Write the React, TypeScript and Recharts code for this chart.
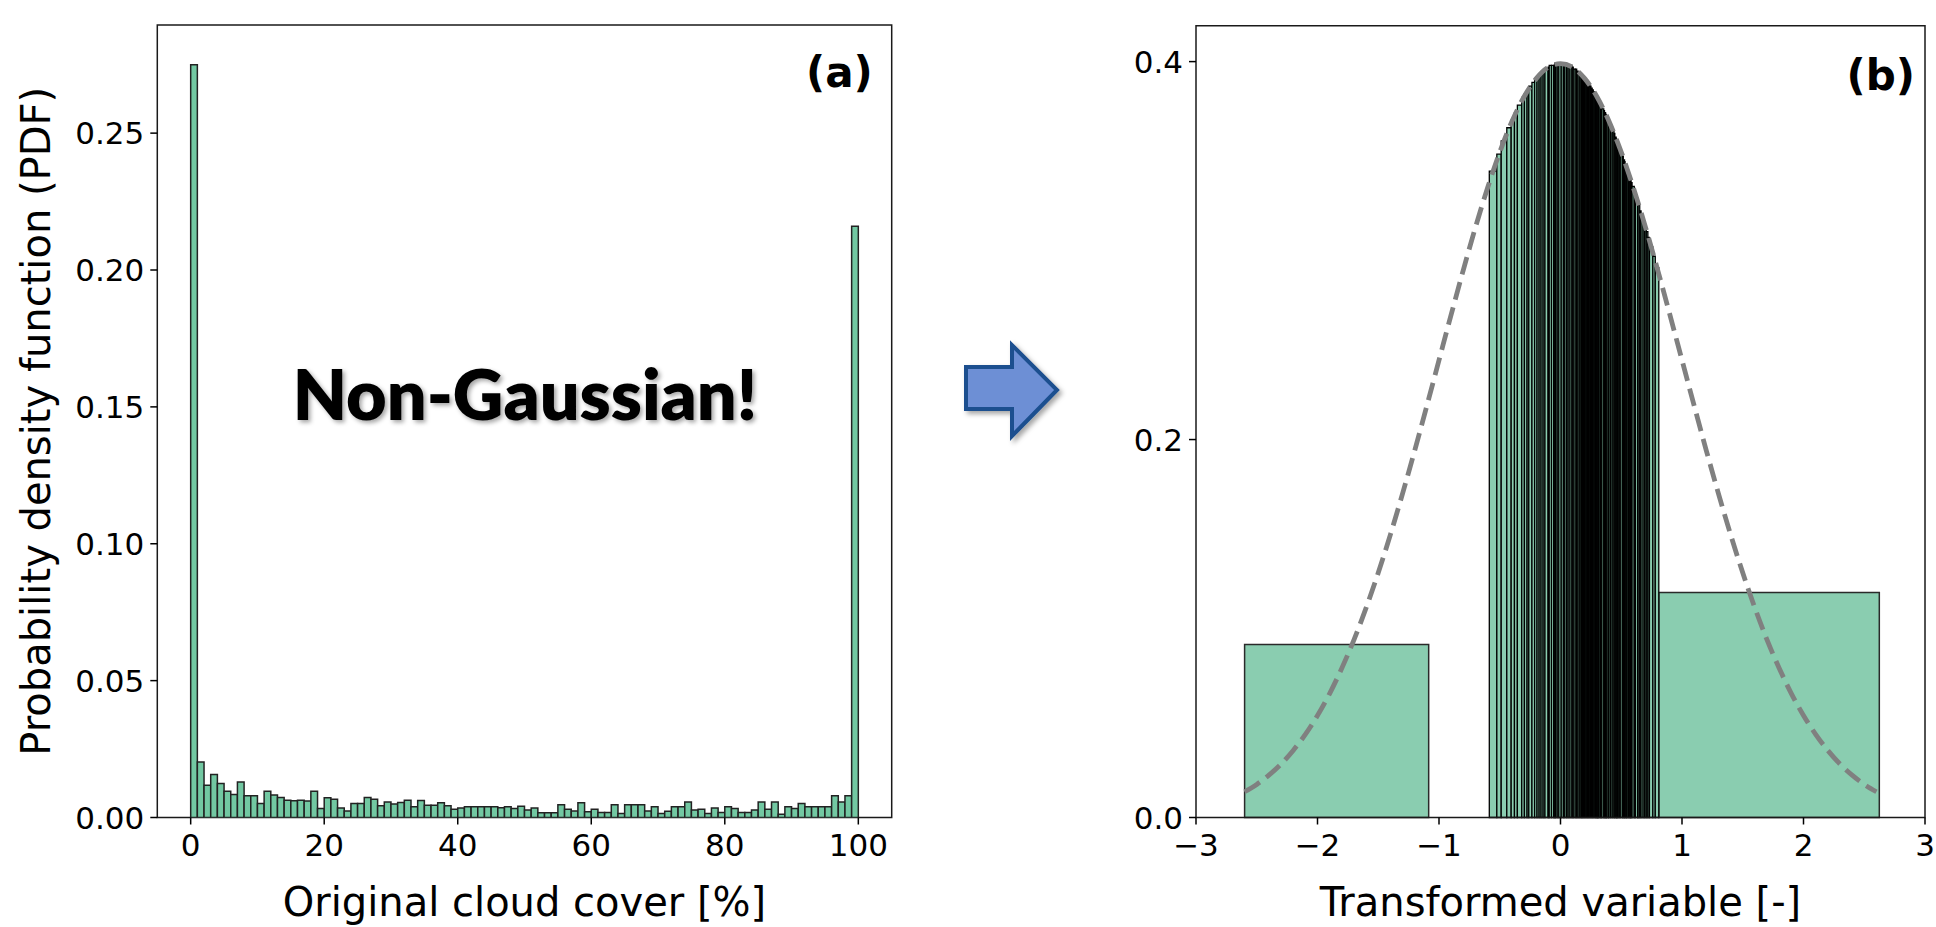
import React from "react";
import { ComposedChart, Bar, Line, XAxis, YAxis, ReferenceArea } from "recharts";

// ---------- Panel (a): original cloud cover histogram ----------
const cloudBinCenters = [
  0.5, 1.5, 2.5, 3.5, 4.5, 5.5, 6.5, 7.5, 8.5, 9.5,
  10.5, 11.5, 12.5, 13.5, 14.5, 15.5, 16.5, 17.5, 18.5, 19.5,
  20.5, 21.5, 22.5, 23.5, 24.5, 25.5, 26.5, 27.5, 28.5, 29.5,
  30.5, 31.5, 32.5, 33.5, 34.5, 35.5, 36.5, 37.5, 38.5, 39.5,
  40.5, 41.5, 42.5, 43.5, 44.5, 45.5, 46.5, 47.5, 48.5, 49.5,
  50.5, 51.5, 52.5, 53.5, 54.5, 55.5, 56.5, 57.5, 58.5, 59.5,
  60.5, 61.5, 62.5, 63.5, 64.5, 65.5, 66.5, 67.5, 68.5, 69.5,
  70.5, 71.5, 72.5, 73.5, 74.5, 75.5, 76.5, 77.5, 78.5, 79.5,
  80.5, 81.5, 82.5, 83.5, 84.5, 85.5, 86.5, 87.5, 88.5, 89.5,
  90.5, 91.5, 92.5, 93.5, 94.5, 95.5, 96.5, 97.5, 98.5, 99.5,
];
const cloudPdf = [
  0.275, 0.0203, 0.0118, 0.0157, 0.0124, 0.0096, 0.0084, 0.013, 0.0079, 0.0079,
  0.0051, 0.0096, 0.0082, 0.0073, 0.0063, 0.0061, 0.0063, 0.006, 0.0096, 0.0033,
  0.0072, 0.0067, 0.0035, 0.0024, 0.0051, 0.0051, 0.0073, 0.0067, 0.0043, 0.0057,
  0.0049, 0.0055, 0.0063, 0.0039, 0.0062, 0.0045, 0.0045, 0.0054, 0.0043, 0.003,
  0.0035, 0.0039, 0.0039, 0.0039, 0.0039, 0.0039, 0.0036, 0.0039, 0.0033, 0.0041,
  0.0027, 0.0035, 0.0017, 0.0017, 0.0017, 0.0047, 0.003, 0.0024, 0.0054, 0.0021,
  0.003, 0.0018, 0.0018, 0.0047, 0.0015, 0.0047, 0.0047, 0.0047, 0.0024, 0.0039,
  0.0015, 0.0023, 0.0039, 0.0039, 0.0057, 0.0027, 0.003, 0.0015, 0.0035, 0.0018,
  0.0039, 0.0033, 0.0018, 0.0018, 0.0027, 0.0057, 0.003, 0.0057, 0.0012, 0.0039,
  0.0033, 0.0051, 0.0039, 0.0039, 0.0039, 0.0039, 0.0079, 0.0057, 0.0079, 0.216,
];
const cloudXTicks = [0, 20, 40, 60, 80, 100];
const cloudYTicks = [0, 0.05, 0.1, 0.15, 0.2, 0.25];
const cloudXDomain = [-5, 105];
const cloudYDomain = [0, 0.2895];

// ---------- Panel (b): transformed variable histogram ----------
const centralEdges = [
  -0.586, -0.524, -0.488, -0.442, -0.406, -0.379, -0.355, -0.319, -0.297, -0.275,
  -0.261, -0.235, -0.213, -0.193, -0.176, -0.16, -0.143, -0.128, -0.102, -0.093,
  -0.074, -0.056, -0.047, -0.041, -0.027, -0.014, 0.006, 0.024, 0.035, 0.05,
  0.063, 0.078, 0.094, 0.105, 0.121, 0.133, 0.145, 0.159, 0.171, 0.179,
  0.188, 0.198, 0.209, 0.22, 0.23, 0.241, 0.251, 0.261, 0.27, 0.282,
  0.289, 0.298, 0.303, 0.308, 0.313, 0.326, 0.334, 0.341, 0.356, 0.362,
  0.371, 0.376, 0.381, 0.394, 0.399, 0.412, 0.426, 0.44, 0.447, 0.458,
  0.463, 0.469, 0.481, 0.492, 0.509, 0.517, 0.527, 0.531, 0.542, 0.547,
  0.559, 0.57, 0.575, 0.581, 0.589, 0.607, 0.617, 0.635, 0.639, 0.652,
  0.663, 0.68, 0.693, 0.706, 0.719, 0.732, 0.76, 0.78, 0.809,
];
const centralPdf = [
  0.342, 0.351, 0.358, 0.365, 0.369, 0.373, 0.377, 0.381, 0.383, 0.385,
  0.387, 0.389, 0.391, 0.392, 0.393, 0.394, 0.395, 0.396, 0.397, 0.398,
  0.398, 0.398, 0.399, 0.399, 0.399, 0.399, 0.399, 0.399, 0.399, 0.398,
  0.398, 0.398, 0.397, 0.396, 0.396, 0.395, 0.394, 0.394, 0.393, 0.392,
  0.392, 0.391, 0.39, 0.389, 0.388, 0.387, 0.386, 0.385, 0.384, 0.383,
  0.382, 0.381, 0.381, 0.38, 0.379, 0.378, 0.377, 0.375, 0.374, 0.373,
  0.372, 0.371, 0.37, 0.369, 0.367, 0.365, 0.363, 0.362, 0.36, 0.359,
  0.358, 0.356, 0.354, 0.352, 0.35, 0.348, 0.347, 0.345, 0.344, 0.342,
  0.34, 0.339, 0.338, 0.336, 0.334, 0.331, 0.328, 0.326, 0.324, 0.321,
  0.318, 0.315, 0.312, 0.31, 0.307, 0.302, 0.297, 0.291,
];
const tailStarts = [-2.6, 0.809];
const tailEnds = [-1.085, 2.624];
const tailPdf = [0.0915, 0.119];

const gaussX = [
  -2.6, -2.5, -2.4, -2.3, -2.2, -2.1, -2.0, -1.9, -1.8, -1.7, -1.6, -1.5, -1.4,
  -1.3, -1.2, -1.1, -1.0, -0.9, -0.8, -0.7, -0.6, -0.5, -0.4, -0.3, -0.2, -0.1,
  0, 0.1, 0.2, 0.3, 0.4, 0.5, 0.6, 0.7, 0.8, 0.9, 1.0, 1.1, 1.2, 1.3, 1.4, 1.5,
  1.6, 1.7, 1.8, 1.9, 2.0, 2.1, 2.2, 2.3, 2.4, 2.5, 2.6,
];
const gaussY = [
  0.0136, 0.0175, 0.0224, 0.0283, 0.0355, 0.044, 0.054, 0.0656, 0.079, 0.094,
  0.1109, 0.1295, 0.1497, 0.1714, 0.1942, 0.2179, 0.242, 0.2661, 0.2897, 0.3123,
  0.3332, 0.3521, 0.3683, 0.3814, 0.391, 0.397, 0.3989, 0.397, 0.391, 0.3814,
  0.3683, 0.3521, 0.3332, 0.3123, 0.2897, 0.2661, 0.242, 0.2179, 0.1942, 0.1714,
  0.1497, 0.1295, 0.1109, 0.094, 0.079, 0.0656, 0.054, 0.044, 0.0355, 0.0283,
  0.0224, 0.0175, 0.0136,
];
const transXTicks = [-3, -2, -1, 0, 1, 2, 3];
const transYTicks = [0, 0.2, 0.4];
const transXDomain = [-3, 3];
const transYDomain = [0, 0.419];

// ---------- styling ----------
const FONT = "DejaVu Sans";
const TICK_FS = 31;
const LABEL_FS = 40;
const GREEN_A = "#72C8A2";
const GREEN_B = "#8ACDB0";
const SPINE = "#1a1a1a";

const tickStyle = { fontSize: TICK_FS, fill: "#000", fontFamily: FONT };
const tickLineStyle = { stroke: "#000", strokeWidth: 1.5 };

const minusFmt = (v: number) => (v < 0 ? `\u2212${Math.abs(v)}` : `${v}`);

const makeXLabel = (text: string) => (props: any) => {
  const vb = props.viewBox || {};
  const cx = vb.x + vb.width / 2;
  const cy = vb.y + 84;
  return (
    <text x={cx} y={cy} textAnchor="middle" dominantBaseline="central" fontSize={LABEL_FS} fontFamily={FONT} fill="#000">
      {text}
    </text>
  );
};

const makeYLabel = (text: string) => (props: any) => {
  const vb = props.viewBox || {};
  const cx = vb.x + vb.width - 121;
  const cy = vb.y + vb.height / 2;
  return (
    <text x={cx} y={cy} transform={`rotate(-90 ${cx} ${cy})`} textAnchor="middle" dominantBaseline="central" fontSize={LABEL_FS} fontFamily={FONT} fill="#000">
      {text}
    </text>
  );
};

const makeCorner = (text: string, insetRight: number, baseline: number) => (props: any) => {
  const vb = props.viewBox || {};
  return (
    <text x={vb.x + vb.width - insetRight} y={vb.y + baseline} textAnchor="end" fontSize={42} fontWeight="bold" fontFamily={FONT} fill="#000">
      {text}
    </text>
  );
};

const cloudData = cloudBinCenters.map((x, i) => ({ x, pdf: cloudPdf[i] }));
const gaussData = gaussX.map((x, i) => ({ x, pdf: gaussY[i] }));

function PanelA() {
  return (
    <ComposedChart
      width={960}
      height={927}
      data={cloudData}
      margin={{ top: 25, right: 68.3, bottom: 9.5, left: 27.3 }}
    >
      <XAxis
        dataKey="x"
        type="number"
        domain={cloudXDomain}
        ticks={cloudXTicks}
        allowDataOverflow
        height={100}
        axisLine={false}
        tick={tickStyle}
        tickLine={tickLineStyle}
        tickSize={7}
        tickMargin={9}
        label={makeXLabel("Original cloud cover [%]")}
      />
      <YAxis
        type="number"
        domain={cloudYDomain}
        ticks={cloudYTicks}
        allowDataOverflow
        width={130}
        axisLine={false}
        tick={tickStyle}
        tickLine={tickLineStyle}
        tickSize={7}
        tickMargin={6}
        tickFormatter={(v: number) => v.toFixed(2)}
        label={makeYLabel("Probability density function (PDF)")}
      />
      <Bar
        dataKey="pdf"
        fill={GREEN_A}
        stroke="#222"
        strokeWidth={1.5}
        barSize={6.676}
        isAnimationActive={false}
      />
      <ReferenceArea
        x1={cloudXDomain[0]}
        x2={cloudXDomain[1]}
        y1={cloudYDomain[0]}
        y2={cloudYDomain[1]}
        fill="none"
        fillOpacity={0}
        stroke={SPINE}
        strokeWidth={1.5}
        ifOverflow="visible"
        label={makeCorner("(a)", 19, 62)}
      />
    </ComposedChart>
  );
}

function PanelB() {
  return (
    <ComposedChart
      width={936}
      height={927}
      data={gaussData}
      margin={{ top: 25.7, right: 11, bottom: 9.5, left: 66 }}
    >
      <XAxis
        dataKey="x"
        type="number"
        domain={transXDomain}
        ticks={transXTicks}
        allowDataOverflow
        height={100}
        axisLine={false}
        tick={tickStyle}
        tickLine={tickLineStyle}
        tickSize={7}
        tickMargin={9}
        tickFormatter={minusFmt}
        label={makeXLabel("Transformed variable [-]")}
      />
      <YAxis
        type="number"
        domain={transYDomain}
        ticks={transYTicks}
        allowDataOverflow
        width={130}
        axisLine={false}
        tick={tickStyle}
        tickLine={tickLineStyle}
        tickSize={7}
        tickMargin={6}
        tickFormatter={(v: number) => v.toFixed(1)}
      />
      {tailStarts.map((s, i) => (
        <ReferenceArea
          key={`tail-${i}`}
          x1={s}
          x2={tailEnds[i]}
          y1={0}
          y2={tailPdf[i]}
          fill={GREEN_B}
          fillOpacity={1}
          stroke="#2a2a2a"
          strokeWidth={1.5}
        />
      ))}
      {centralPdf.map((h, i) => (
        <ReferenceArea
          key={`c-${i}`}
          x1={centralEdges[i]}
          x2={centralEdges[i + 1]}
          y1={0}
          y2={h}
          fill={GREEN_B}
          fillOpacity={1}
          stroke="#000"
          strokeWidth={1.3}
        />
      ))}
      <Line
        dataKey="pdf"
        type="monotone"
        stroke="#808080"
        strokeWidth={4.8}
        strokeDasharray="18 8"
        dot={false}
        activeDot={false}
        isAnimationActive={false}
      />
      <ReferenceArea
        x1={transXDomain[0]}
        x2={transXDomain[1]}
        y1={transYDomain[0]}
        y2={transYDomain[1]}
        fill="none"
        fillOpacity={0}
        stroke={SPINE}
        strokeWidth={1.5}
        ifOverflow="visible"
        label={makeCorner("(b)", 10, 64)}
      />
    </ComposedChart>
  );
}

export default function App() {
  return (
    <div style={{ position: "absolute", left: 0, top: 0, width: 1936, height: 927, background: "#fff", overflow: "hidden" }}>
      <div style={{ position: "absolute", left: 0, top: 0 }}>
        <PanelA />
      </div>
      <div style={{ position: "absolute", left: 1000, top: 0 }}>
        <PanelB />
      </div>
      <svg width={1936} height={927} style={{ position: "absolute", left: 0, top: 0, pointerEvents: "none" }}>
        <defs>
          <filter id="arrowShadow" x="-20%" y="-20%" width="150%" height="150%">
            <feDropShadow dx="3" dy="3" stdDeviation="2.5" floodColor="#000" floodOpacity="0.35" />
          </filter>
          <filter id="textShadow" x="-10%" y="-20%" width="120%" height="150%">
            <feDropShadow dx="2.5" dy="2.5" stdDeviation="2" floodColor="#000" floodOpacity="0.35" />
          </filter>
        </defs>
        <polygon
          points="966,367 1012,367 1012,345 1057,390 1012,436 1012,409 966,409"
          fill="#6D8FD5"
          stroke="#1B4F8F"
          strokeWidth={4}
          strokeLinejoin="miter"
          filter="url(#arrowShadow)"
        />
        <text
          x={525}
          y={420}
          textAnchor="middle"
          fontFamily="Lato"
          fontWeight={800}
          fontSize={70}
          fill="#000"
          filter="url(#textShadow)"
        >
          Non-Gaussian!
        </text>
      </svg>
    </div>
  );
}
